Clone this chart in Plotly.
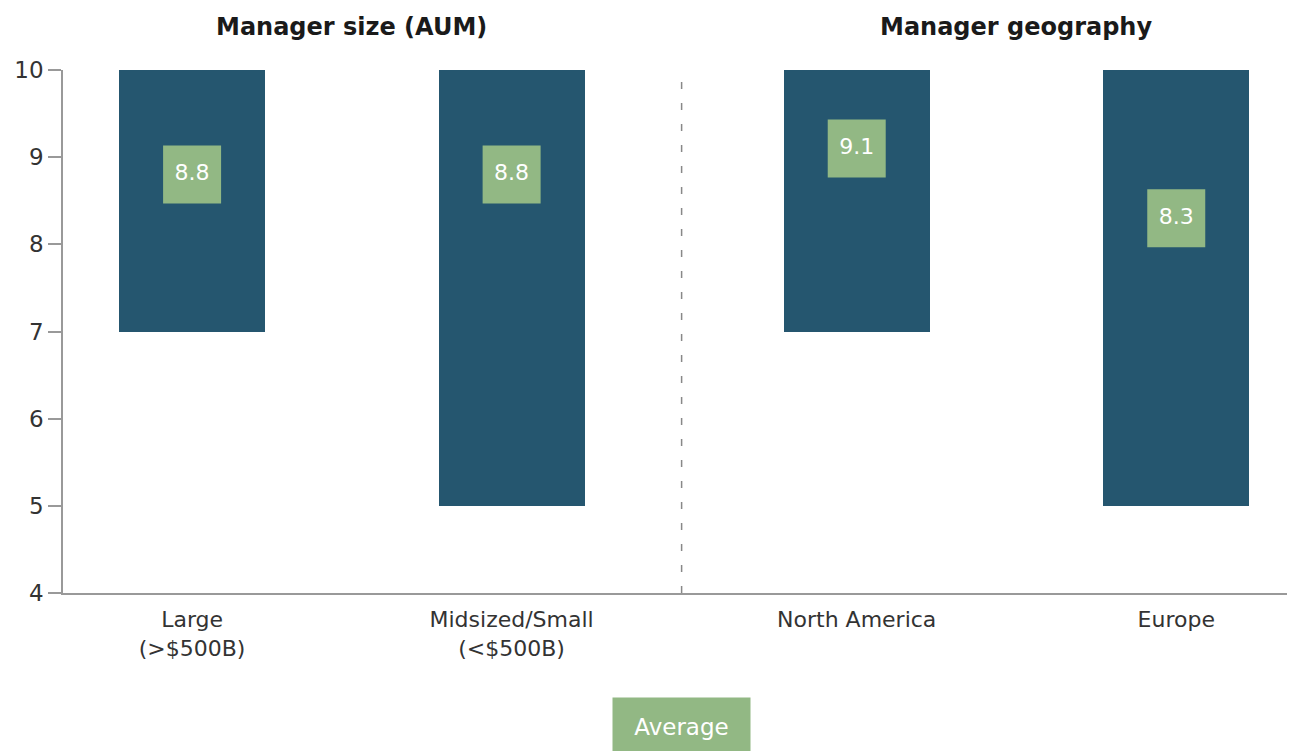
import plotly.graph_objects as go

categories = ["Large<br>(>$500B)", "Midsized/Small<br>(<$500B)", "North America", "Europe"]
group_of = [0, 0, 1, 1]
group_titles = ["Manager size (AUM)", "Manager geography"]
low_values = [7, 5, 7, 5]
high_values = [10, 10, 10, 10]
avg_values = [8.8, 8.8, 9.1, 8.3]
y_ticks = [4, 5, 6, 7, 8, 9, 10]

BAR = "#25566f"
GREEN = "#92b884"
TEXT = "#333333"
FONT = "DejaVu Sans"

group_gap = 0.08
xpos = [i + group_gap * g for i, g in enumerate(group_of)]

fig = go.Figure()
fig.add_trace(go.Bar(
    x=xpos, y=[h - l for h, l in zip(high_values, low_values)], base=low_values,
    width=0.457, marker=dict(color=BAR, line=dict(width=0)),
    showlegend=False, hoverinfo="skip"))
fig.add_trace(go.Scatter(
    x=xpos, y=avg_values, mode="markers+text",
    marker=dict(symbol="square", size=58, color=GREEN, line=dict(width=0)),
    text=[f"{v:.1f}" for v in avg_values], textposition="middle center",
    textfont=dict(color="white", size=22, family=FONT),
    showlegend=False, hoverinfo="skip"))

# group titles
for g, title in enumerate(group_titles):
    members = [x for x, gg in zip(xpos, group_of) if gg == g]
    fig.add_annotation(x=sum(members) / len(members), y=1.0, xref="x", yref="paper",
                       yanchor="middle", yshift=43, text=title, showarrow=False,
                       font=dict(size=24, color="#1a1a1a", family=FONT, weight="bold"))

# separator
sep = (xpos[1] + xpos[2]) / 2 - 0.008
fig.add_shape(type="line", x0=sep, x1=sep, y0=0, y1=1, xref="x", yref="paper",
              line=dict(color="#888888", width=1.5, dash="7px,14px"))

# legend box
fig.add_annotation(x=sep, y=0, xref="x", yref="paper", yshift=-104, yanchor="top",
                   text="Average", showarrow=False, bgcolor=GREEN, borderpad=0,
                   width=137, height=58, valign="middle",
                   font=dict(size=23, color="white", family=FONT))

fig.update_layout(
    width=1287, height=743,
    margin=dict(l=55, r=5, t=62, b=158),
    plot_bgcolor="white", paper_bgcolor="white",
    font=dict(family=FONT, color=TEXT, size=22),
    bargap=0,
    xaxis=dict(range=[-0.404, 3.436], tickmode="array", tickvals=xpos, ticktext=categories,
               showgrid=False, zeroline=False, showline=True, linecolor="#999999", linewidth=2,
               ticks="", ticklabelstandoff=6, tickfont=dict(size=22, color=TEXT)),
    yaxis=dict(range=[4, 10], tickmode="array", tickvals=y_ticks, showgrid=False,
               zeroline=False, showline=True, linecolor="#999999", linewidth=1.5,
               ticks="outside", ticklen=13, tickcolor="#999999", tickwidth=1.5,
               tickfont=dict(size=23, color=TEXT)),
)
fig.write_html("out.html")
